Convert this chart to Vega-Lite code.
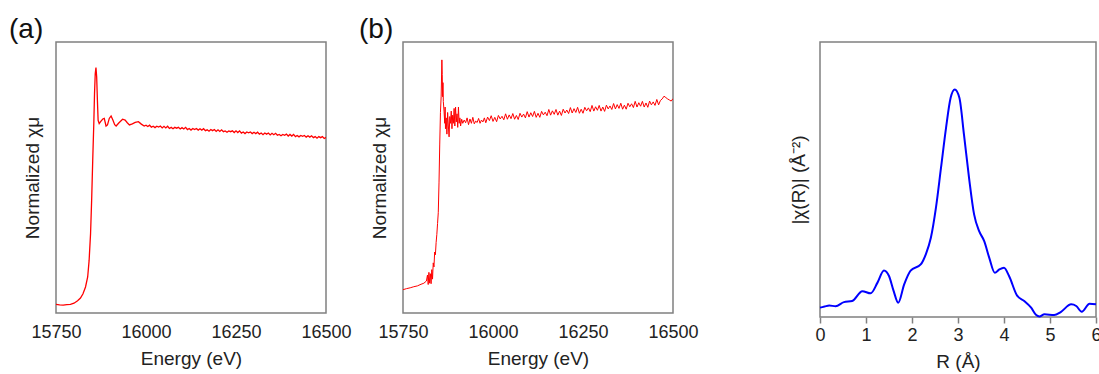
{
  "$schema": "https://vega.github.io/schema/vega-lite/v6.json",
  "padding": {"left": 8, "top": 15, "right": 0, "bottom": 0},
  "bounds": "flush",
  "spacing": 0,
  "config": {
    "font": "Liberation Sans",
    "view": {"stroke": "#808080", "strokeWidth": 1.5},
    "axis": {"grid": false, "domain": false, "labelFontSize": 18, "titleFontSize": 19, "titleFontWeight": "normal", "labelColor": "#222222", "titleColor": "#222222", "labelFlush": false, "labelOverlap": false},
    "title": {"fontSize": 28, "fontWeight": "normal", "color": "#111111", "anchor": "start", "frame": "group"}
  },
  "datasets": {
    "xanes_a": [
      {"E": 15750, "mu": 0.032}, {"E": 15760, "mu": 0.030}, {"E": 15770, "mu": 0.029}, {"E": 15780, "mu": 0.031}, {"E": 15790, "mu": 0.032},
      {"E": 15800, "mu": 0.036}, {"E": 15810, "mu": 0.045}, {"E": 15818, "mu": 0.055}, {"E": 15825, "mu": 0.071}, {"E": 15832, "mu": 0.096},
      {"E": 15838, "mu": 0.133}, {"E": 15842, "mu": 0.194}, {"E": 15846, "mu": 0.293}, {"E": 15849, "mu": 0.416}, {"E": 15852, "mu": 0.563},
      {"E": 15855, "mu": 0.699}, {"E": 15857, "mu": 0.809}, {"E": 15859, "mu": 0.883}, {"E": 15861, "mu": 0.906}, {"E": 15863, "mu": 0.871},
      {"E": 15865, "mu": 0.785}, {"E": 15867, "mu": 0.711}, {"E": 15870, "mu": 0.699}, {"E": 15875, "mu": 0.708}, {"E": 15880, "mu": 0.716},
      {"E": 15884, "mu": 0.718}, {"E": 15889, "mu": 0.690}, {"E": 15893, "mu": 0.694}, {"E": 15898, "mu": 0.718}, {"E": 15903, "mu": 0.727},
      {"E": 15908, "mu": 0.712}, {"E": 15913, "mu": 0.695}, {"E": 15917, "mu": 0.690}, {"E": 15925, "mu": 0.702}, {"E": 15935, "mu": 0.715},
      {"E": 15942, "mu": 0.712}, {"E": 15948, "mu": 0.702}, {"E": 15954, "mu": 0.694}, {"E": 15962, "mu": 0.698}, {"E": 15970, "mu": 0.703},
      {"E": 15979, "mu": 0.706}, {"E": 15987, "mu": 0.697}, {"E": 15995, "mu": 0.690},
      {"E": 16000, "mu": 0.693}, {"E": 16005, "mu": 0.688}, {"E": 16010, "mu": 0.693}, {"E": 16015, "mu": 0.686}, {"E": 16020, "mu": 0.689},
      {"E": 16025, "mu": 0.684}, {"E": 16030, "mu": 0.689}, {"E": 16035, "mu": 0.686}, {"E": 16040, "mu": 0.690}, {"E": 16045, "mu": 0.683},
      {"E": 16050, "mu": 0.689}, {"E": 16055, "mu": 0.683}, {"E": 16060, "mu": 0.689}, {"E": 16065, "mu": 0.681}, {"E": 16070, "mu": 0.685},
      {"E": 16075, "mu": 0.680}, {"E": 16080, "mu": 0.685}, {"E": 16085, "mu": 0.682}, {"E": 16090, "mu": 0.685}, {"E": 16095, "mu": 0.679},
      {"E": 16100, "mu": 0.684}, {"E": 16105, "mu": 0.679}, {"E": 16110, "mu": 0.685}, {"E": 16115, "mu": 0.677}, {"E": 16120, "mu": 0.681},
      {"E": 16125, "mu": 0.675}, {"E": 16130, "mu": 0.681}, {"E": 16135, "mu": 0.677}, {"E": 16140, "mu": 0.681}, {"E": 16145, "mu": 0.675},
      {"E": 16150, "mu": 0.680}, {"E": 16155, "mu": 0.675}, {"E": 16160, "mu": 0.680}, {"E": 16165, "mu": 0.673}, {"E": 16170, "mu": 0.676},
      {"E": 16175, "mu": 0.671}, {"E": 16180, "mu": 0.677}, {"E": 16185, "mu": 0.673}, {"E": 16190, "mu": 0.677}, {"E": 16195, "mu": 0.670},
      {"E": 16200, "mu": 0.676}, {"E": 16205, "mu": 0.670}, {"E": 16210, "mu": 0.676}, {"E": 16215, "mu": 0.669}, {"E": 16220, "mu": 0.672},
      {"E": 16225, "mu": 0.667}, {"E": 16230, "mu": 0.672}, {"E": 16235, "mu": 0.669}, {"E": 16240, "mu": 0.672}, {"E": 16245, "mu": 0.666},
      {"E": 16250, "mu": 0.672}, {"E": 16255, "mu": 0.666}, {"E": 16260, "mu": 0.672}, {"E": 16265, "mu": 0.664}, {"E": 16270, "mu": 0.668},
      {"E": 16275, "mu": 0.662}, {"E": 16280, "mu": 0.668}, {"E": 16285, "mu": 0.665}, {"E": 16290, "mu": 0.668}, {"E": 16295, "mu": 0.662},
      {"E": 16300, "mu": 0.667}, {"E": 16305, "mu": 0.662}, {"E": 16310, "mu": 0.667}, {"E": 16315, "mu": 0.660}, {"E": 16320, "mu": 0.664},
      {"E": 16325, "mu": 0.658}, {"E": 16330, "mu": 0.664}, {"E": 16335, "mu": 0.660}, {"E": 16340, "mu": 0.664}, {"E": 16345, "mu": 0.657},
      {"E": 16350, "mu": 0.663}, {"E": 16355, "mu": 0.658}, {"E": 16360, "mu": 0.663}, {"E": 16365, "mu": 0.656}, {"E": 16370, "mu": 0.659},
      {"E": 16375, "mu": 0.654}, {"E": 16380, "mu": 0.659}, {"E": 16385, "mu": 0.656}, {"E": 16390, "mu": 0.660}, {"E": 16395, "mu": 0.653},
      {"E": 16400, "mu": 0.659}, {"E": 16405, "mu": 0.653}, {"E": 16410, "mu": 0.659}, {"E": 16415, "mu": 0.651}, {"E": 16420, "mu": 0.655},
      {"E": 16425, "mu": 0.650}, {"E": 16430, "mu": 0.655}, {"E": 16435, "mu": 0.652}, {"E": 16440, "mu": 0.655}, {"E": 16445, "mu": 0.649},
      {"E": 16450, "mu": 0.654}, {"E": 16455, "mu": 0.649}, {"E": 16460, "mu": 0.654}, {"E": 16465, "mu": 0.647}, {"E": 16470, "mu": 0.651},
      {"E": 16475, "mu": 0.645}, {"E": 16480, "mu": 0.651}, {"E": 16485, "mu": 0.647}, {"E": 16490, "mu": 0.651}, {"E": 16495, "mu": 0.644},
      {"E": 16500, "mu": 0.648}
    ],
    "xanes_b": [
      {"E": 15750, "mu": 0.086}, {"E": 15760, "mu": 0.090}, {"E": 15770, "mu": 0.093}, {"E": 15780, "mu": 0.097}, {"E": 15790, "mu": 0.100},
      {"E": 15800, "mu": 0.106}, {"E": 15808, "mu": 0.110}, {"E": 15815, "mu": 0.118}, {"E": 15818, "mu": 0.140}, {"E": 15820, "mu": 0.105},
      {"E": 15822, "mu": 0.150}, {"E": 15824, "mu": 0.110}, {"E": 15826, "mu": 0.145}, {"E": 15828, "mu": 0.108}, {"E": 15830, "mu": 0.160},
      {"E": 15832, "mu": 0.125}, {"E": 15834, "mu": 0.185}, {"E": 15836, "mu": 0.170}, {"E": 15838, "mu": 0.225}, {"E": 15840, "mu": 0.215},
      {"E": 15842, "mu": 0.260}, {"E": 15844, "mu": 0.290}, {"E": 15846, "mu": 0.330}, {"E": 15848, "mu": 0.370}, {"E": 15850, "mu": 0.480},
      {"E": 15852, "mu": 0.620}, {"E": 15854, "mu": 0.740}, {"E": 15856, "mu": 0.800}, {"E": 15858, "mu": 0.934}, {"E": 15859, "mu": 0.880},
      {"E": 15860, "mu": 0.798}, {"E": 15861, "mu": 0.850}, {"E": 15862, "mu": 0.780}, {"E": 15864, "mu": 0.745}, {"E": 15866, "mu": 0.700},
      {"E": 15867, "mu": 0.760}, {"E": 15868, "mu": 0.680}, {"E": 15870, "mu": 0.720}, {"E": 15872, "mu": 0.660}, {"E": 15874, "mu": 0.740},
      {"E": 15876, "mu": 0.690}, {"E": 15878, "mu": 0.650}, {"E": 15880, "mu": 0.725}, {"E": 15882, "mu": 0.700}, {"E": 15884, "mu": 0.745},
      {"E": 15886, "mu": 0.680}, {"E": 15888, "mu": 0.730}, {"E": 15890, "mu": 0.700}, {"E": 15892, "mu": 0.755}, {"E": 15894, "mu": 0.690},
      {"E": 15896, "mu": 0.760}, {"E": 15898, "mu": 0.705}, {"E": 15900, "mu": 0.735}, {"E": 15902, "mu": 0.685}, {"E": 15904, "mu": 0.760},
      {"E": 15906, "mu": 0.700}, {"E": 15908, "mu": 0.720}, {"E": 15910, "mu": 0.690}, {"E": 15913, "mu": 0.715}, {"E": 15916, "mu": 0.700},
      {"E": 15920, "mu": 0.712}, {"E": 15924, "mu": 0.702}, {"E": 15928, "mu": 0.720}, {"E": 15932, "mu": 0.695}, {"E": 15936, "mu": 0.716},
      {"E": 15940, "mu": 0.700}, {"E": 15944, "mu": 0.722}, {"E": 15948, "mu": 0.698}, {"E": 15952, "mu": 0.708}, {"E": 15956, "mu": 0.703},
      {"E": 15960, "mu": 0.718}, {"E": 15964, "mu": 0.700}, {"E": 15968, "mu": 0.712}, {"E": 15972, "mu": 0.705}, {"E": 15976, "mu": 0.720},
      {"E": 15980, "mu": 0.702}, {"E": 15985, "mu": 0.723}, {"E": 15990, "mu": 0.710}, {"E": 15995, "mu": 0.728},
      {"E": 16000, "mu": 0.707}, {"E": 16005, "mu": 0.722}, {"E": 16010, "mu": 0.706}, {"E": 16015, "mu": 0.729}, {"E": 16020, "mu": 0.716},
      {"E": 16025, "mu": 0.726}, {"E": 16030, "mu": 0.713}, {"E": 16035, "mu": 0.735}, {"E": 16040, "mu": 0.715}, {"E": 16045, "mu": 0.731},
      {"E": 16050, "mu": 0.717}, {"E": 16055, "mu": 0.736}, {"E": 16060, "mu": 0.715}, {"E": 16065, "mu": 0.729}, {"E": 16070, "mu": 0.714},
      {"E": 16075, "mu": 0.737}, {"E": 16080, "mu": 0.723}, {"E": 16085, "mu": 0.734}, {"E": 16090, "mu": 0.720}, {"E": 16095, "mu": 0.743},
      {"E": 16100, "mu": 0.723}, {"E": 16105, "mu": 0.739}, {"E": 16110, "mu": 0.725}, {"E": 16115, "mu": 0.744}, {"E": 16120, "mu": 0.722},
      {"E": 16125, "mu": 0.737}, {"E": 16130, "mu": 0.722}, {"E": 16135, "mu": 0.744}, {"E": 16140, "mu": 0.731}, {"E": 16145, "mu": 0.741},
      {"E": 16150, "mu": 0.728}, {"E": 16155, "mu": 0.751}, {"E": 16160, "mu": 0.730}, {"E": 16165, "mu": 0.746}, {"E": 16170, "mu": 0.733},
      {"E": 16175, "mu": 0.751}, {"E": 16180, "mu": 0.730}, {"E": 16185, "mu": 0.745}, {"E": 16190, "mu": 0.729}, {"E": 16195, "mu": 0.752},
      {"E": 16200, "mu": 0.738}, {"E": 16205, "mu": 0.749}, {"E": 16210, "mu": 0.736}, {"E": 16215, "mu": 0.758}, {"E": 16220, "mu": 0.738},
      {"E": 16225, "mu": 0.754}, {"E": 16230, "mu": 0.740}, {"E": 16235, "mu": 0.759}, {"E": 16240, "mu": 0.737}, {"E": 16245, "mu": 0.752},
      {"E": 16250, "mu": 0.737}, {"E": 16255, "mu": 0.759}, {"E": 16260, "mu": 0.746}, {"E": 16265, "mu": 0.757}, {"E": 16270, "mu": 0.743},
      {"E": 16275, "mu": 0.766}, {"E": 16280, "mu": 0.745}, {"E": 16285, "mu": 0.761}, {"E": 16290, "mu": 0.748}, {"E": 16295, "mu": 0.766},
      {"E": 16300, "mu": 0.745}, {"E": 16305, "mu": 0.760}, {"E": 16310, "mu": 0.744}, {"E": 16315, "mu": 0.767}, {"E": 16320, "mu": 0.753},
      {"E": 16325, "mu": 0.764}, {"E": 16330, "mu": 0.751}, {"E": 16335, "mu": 0.773}, {"E": 16340, "mu": 0.753}, {"E": 16345, "mu": 0.769},
      {"E": 16350, "mu": 0.755}, {"E": 16355, "mu": 0.774}, {"E": 16360, "mu": 0.752}, {"E": 16365, "mu": 0.767}, {"E": 16370, "mu": 0.752},
      {"E": 16375, "mu": 0.774}, {"E": 16380, "mu": 0.761}, {"E": 16385, "mu": 0.772}, {"E": 16390, "mu": 0.758}, {"E": 16395, "mu": 0.781},
      {"E": 16400, "mu": 0.760}, {"E": 16405, "mu": 0.776}, {"E": 16410, "mu": 0.763}, {"E": 16415, "mu": 0.781}, {"E": 16420, "mu": 0.760},
      {"E": 16425, "mu": 0.775}, {"E": 16430, "mu": 0.759}, {"E": 16435, "mu": 0.782}, {"E": 16440, "mu": 0.768}, {"E": 16445, "mu": 0.779},
      {"E": 16450, "mu": 0.766}, {"E": 16455, "mu": 0.788}, {"E": 16460, "mu": 0.768}, {"E": 16465, "mu": 0.784}, {"E": 16470, "mu": 0.790},
      {"E": 16475, "mu": 0.800}, {"E": 16480, "mu": 0.795}, {"E": 16485, "mu": 0.790}, {"E": 16490, "mu": 0.786}, {"E": 16495, "mu": 0.782},
      {"E": 16500, "mu": 0.791}
    ],
    "exafs": [
      {"R": 0.0, "chi": 0.034}, {"R": 0.1, "chi": 0.038}, {"R": 0.2, "chi": 0.042}, {"R": 0.34, "chi": 0.039}, {"R": 0.52, "chi": 0.054},
      {"R": 0.7, "chi": 0.058}, {"R": 0.92, "chi": 0.094}, {"R": 1.1, "chi": 0.086}, {"R": 1.25, "chi": 0.125}, {"R": 1.39, "chi": 0.169},
      {"R": 1.5, "chi": 0.149}, {"R": 1.6, "chi": 0.095}, {"R": 1.7, "chi": 0.052}, {"R": 1.83, "chi": 0.119}, {"R": 1.97, "chi": 0.169},
      {"R": 2.19, "chi": 0.191}, {"R": 2.3, "chi": 0.228}, {"R": 2.41, "chi": 0.288}, {"R": 2.52, "chi": 0.397}, {"R": 2.63, "chi": 0.542},
      {"R": 2.74, "chi": 0.688}, {"R": 2.84, "chi": 0.797}, {"R": 2.93, "chi": 0.827}, {"R": 3.03, "chi": 0.797}, {"R": 3.13, "chi": 0.663},
      {"R": 3.24, "chi": 0.506}, {"R": 3.35, "chi": 0.373}, {"R": 3.46, "chi": 0.312}, {"R": 3.57, "chi": 0.276}, {"R": 3.68, "chi": 0.215},
      {"R": 3.8, "chi": 0.161}, {"R": 3.9, "chi": 0.173}, {"R": 4.0, "chi": 0.179}, {"R": 4.11, "chi": 0.149}, {"R": 4.28, "chi": 0.079},
      {"R": 4.44, "chi": 0.058}, {"R": 4.59, "chi": 0.034}, {"R": 4.7, "chi": 0.007}, {"R": 4.77, "chi": 0.002}, {"R": 4.88, "chi": 0.010},
      {"R": 5.09, "chi": 0.007}, {"R": 5.24, "chi": 0.019}, {"R": 5.46, "chi": 0.046}, {"R": 5.57, "chi": 0.040}, {"R": 5.69, "chi": 0.019},
      {"R": 5.86, "chi": 0.048}, {"R": 6.0, "chi": 0.046}
    ]
  },
  "hconcat": [
    {
      "title": {"text": "(a)", "dx": -47, "offset": -2},
      "width": 270, "height": 271,
      "data": {"name": "xanes_a"},
      "mark": {"type": "line", "color": "#ff0000", "strokeWidth": 1.3, "clip": true},
      "encoding": {
        "x": {"field": "E", "type": "quantitative", "scale": {"domain": [15750, 16500], "nice": false, "zero": false},
              "axis": {"title": "Energy (eV)", "values": [15750, 16000, 16250, 16500], "format": "d", "ticks": false, "labelPadding": 10, "titlePadding": 8}},
        "y": {"field": "mu", "type": "quantitative", "scale": {"domain": [0, 1], "nice": false},
              "axis": {"title": "Normalized χμ", "labels": false, "ticks": false, "titlePadding": 14}}
      }
    },
    {
      "width": 77, "height": 10, "view": {"stroke": null},
      "data": {"values": []},
      "mark": "point"
    },
    {
      "title": {"text": "(b)", "dx": -44, "offset": -2},
      "width": 270, "height": 271,
      "data": {"name": "xanes_b"},
      "mark": {"type": "line", "color": "#ff0000", "strokeWidth": 1, "clip": true},
      "encoding": {
        "x": {"field": "E", "type": "quantitative", "scale": {"domain": [15750, 16500], "nice": false, "zero": false},
              "axis": {"title": "Energy (eV)", "values": [15750, 16000, 16250, 16500], "format": "d", "ticks": false, "labelPadding": 10, "titlePadding": 8}},
        "y": {"field": "mu", "type": "quantitative", "scale": {"domain": [0, 1], "nice": false},
              "axis": {"title": "Normalized χμ", "labels": false, "ticks": false, "titlePadding": 14}}
      }
    },
    {
      "width": 147, "height": 10, "view": {"stroke": null},
      "data": {"values": []},
      "mark": "point"
    },
    {
      "width": 276, "height": 275,
      "data": {"name": "exafs"},
      "mark": {"type": "line", "color": "#0000ff", "strokeWidth": 2, "interpolate": "monotone"},
      "encoding": {
        "x": {"field": "R", "type": "quantitative", "scale": {"domain": [0, 6], "nice": false},
              "axis": {"title": "R (Å)", "values": [0, 1, 2, 3, 4, 5, 6], "ticks": true, "tickSize": 6, "tickColor": "#808080", "tickWidth": 1.5, "labelPadding": 3, "titlePadding": 8}},
        "y": {"field": "chi", "type": "quantitative", "scale": {"domain": [0, 1], "nice": false},
              "axis": {"title": "|χ(R)| (Å⁻²)", "labels": false, "ticks": false, "titlePadding": 12}}
      }
    }
  ]
}
